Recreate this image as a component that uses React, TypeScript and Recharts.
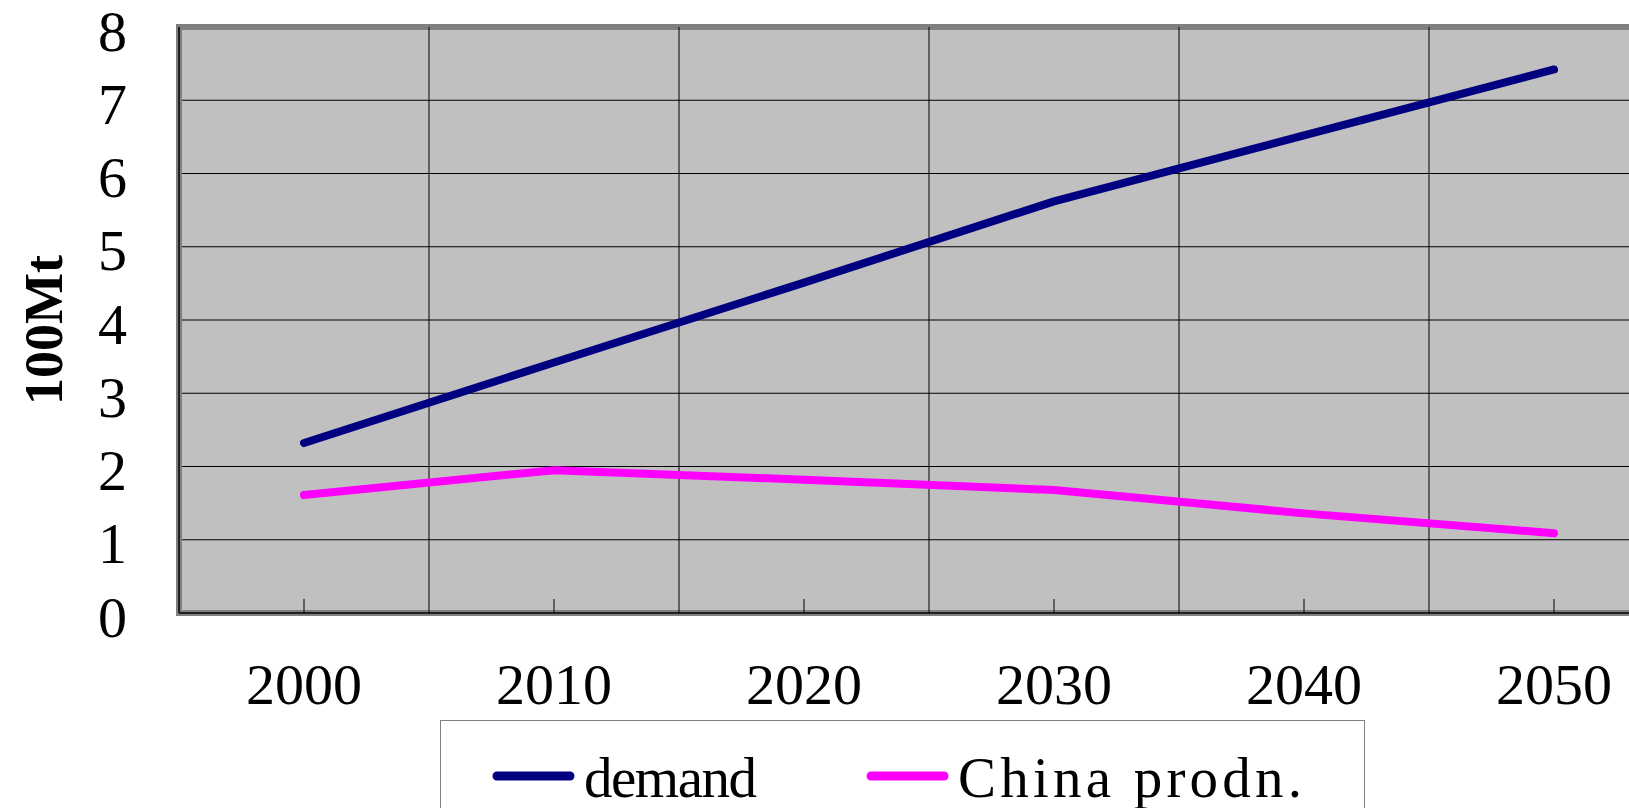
import {
  LineChart,
  Line,
  XAxis,
  YAxis,
  CartesianGrid,
  ReferenceLine,
  ReferenceArea,
  Legend,
} from "recharts";

const years = [2000, 2010, 2020, 2030, 2040, 2050];
const demand = [2.32, 3.42, 4.51, 5.62, 6.52, 7.42];
const chinaProdn = [1.61, 1.95, 1.82, 1.68, 1.36, 1.09];
const yTicks = [0, 1, 2, 3, 4, 5, 6, 7, 8];
// category boundaries, drawn as the vertical grid
const bandEdges = [2005, 2015, 2025, 2035, 2045];
const seriesNames = ["demand", "China prodn."];

const data = years.map((year, i) => ({
  year,
  demand: demand[i],
  prodn: chinaProdn[i],
}));

const FONT = '"Liberation Serif", "Times New Roman", serif';

const YTitle = ({ viewBox }: any) => {
  const x = viewBox.x + 62;
  const y = viewBox.y + viewBox.height / 2 + 10;
  return (
    <text
      x={x}
      y={y}
      transform={`rotate(-90, ${x}, ${y})`}
      textAnchor="middle"
      fontFamily={FONT}
      fontWeight="bold"
      fontSize={54}
      fill="#000"
    >
      100Mt
    </text>
  );
};

// wide monospaced-looking labels, so each entry gets a fixed text width
const labelWidths: Record<string, number> = { demand: 173, "China prodn.": 344 };

const LegendBox = ({ payload }: any) => {
  const items = [...(payload || [])].sort(
    (a: any, b: any) => seriesNames.indexOf(a.value) - seriesNames.indexOf(b.value)
  );
  return (
    <div
      style={{
        width: 925,
        height: 110,
        boxSizing: "border-box",
        border: "1.5px solid #808080",
        background: "#fff",
      }}
    >
      <svg width={922} height={107}>
        {items.map((entry: any, i: number) => {
          const x0 = 56 + i * 374;
          return (
            <g key={entry.value}>
              <line
                x1={x0}
                x2={x0 + 73}
                y1={55}
                y2={55}
                stroke={entry.color}
                strokeWidth={9}
                strokeLinecap="round"
              />
              <text
                x={x0 + 87}
                y={76}
                fontFamily={FONT}
                fontSize={57}
                fill="#000"
                textLength={labelWidths[entry.value]}
                lengthAdjust="spacing"
              >
                {entry.value}
              </text>
            </g>
          );
        })}
      </svg>
    </div>
  );
};

export default function App() {
  return (
    <div
      style={{
        position: "fixed",
        left: 0,
        top: 0,
        width: 1629,
        height: 808,
        overflow: "hidden",
        background: "#fff",
      }}
    >
      <LineChart
        width={1700}
        height={808}
        data={data}
        margin={{ top: 27, right: 21, left: 0, bottom: 0 }}
      >
        <CartesianGrid
          vertical={false}
          stroke="#000"
          strokeWidth={1}
          fill="#C0C0C0"
          fillOpacity={1}
        />
        {bandEdges.map((e) => (
          <ReferenceLine key={e} x={e} stroke="#000" strokeWidth={1} />
        ))}
        <ReferenceArea
          x1={1995}
          x2={2055}
          y1={0}
          y2={8}
          fill="none"
          stroke="#808080"
          strokeWidth={6}
        />
        <XAxis
          type="number"
          dataKey="year"
          domain={[1995, 2055]}
          ticks={years}
          interval={0}
          height={195}
          tickSize={-14}
          tickMargin={64}
          axisLine={{ stroke: "#000", strokeWidth: 1.5 }}
          tickLine={{ stroke: "#000", strokeWidth: 1 }}
          tick={{ fill: "#000", fontSize: 58, fontFamily: FONT }}
        />
        <YAxis
          type="number"
          domain={[0, 8]}
          ticks={yTicks}
          interval={0}
          width={179}
          tickSize={0}
          tickLine={false}
          tickMargin={52}
          axisLine={{ stroke: "#000", strokeWidth: 1.5 }}
          tick={{ fill: "#000", fontSize: 58, fontFamily: FONT, dy: 3 }}
          label={<YTitle />}
        />
        <Legend
          verticalAlign="middle"
          align="center"
          content={<LegendBox />}
          wrapperStyle={{ left: 440, top: 720, width: 925 }}
        />
        <Line
          type="linear"
          dataKey="demand"
          name={seriesNames[0]}
          stroke="#000080"
          strokeWidth={8}
          strokeLinecap="round"
          dot={false}
          activeDot={false}
          isAnimationActive={false}
        />
        <Line
          type="linear"
          dataKey="prodn"
          name={seriesNames[1]}
          stroke="#FF00FF"
          strokeWidth={8}
          strokeLinecap="round"
          dot={false}
          activeDot={false}
          isAnimationActive={false}
        />
      </LineChart>
    </div>
  );
}
